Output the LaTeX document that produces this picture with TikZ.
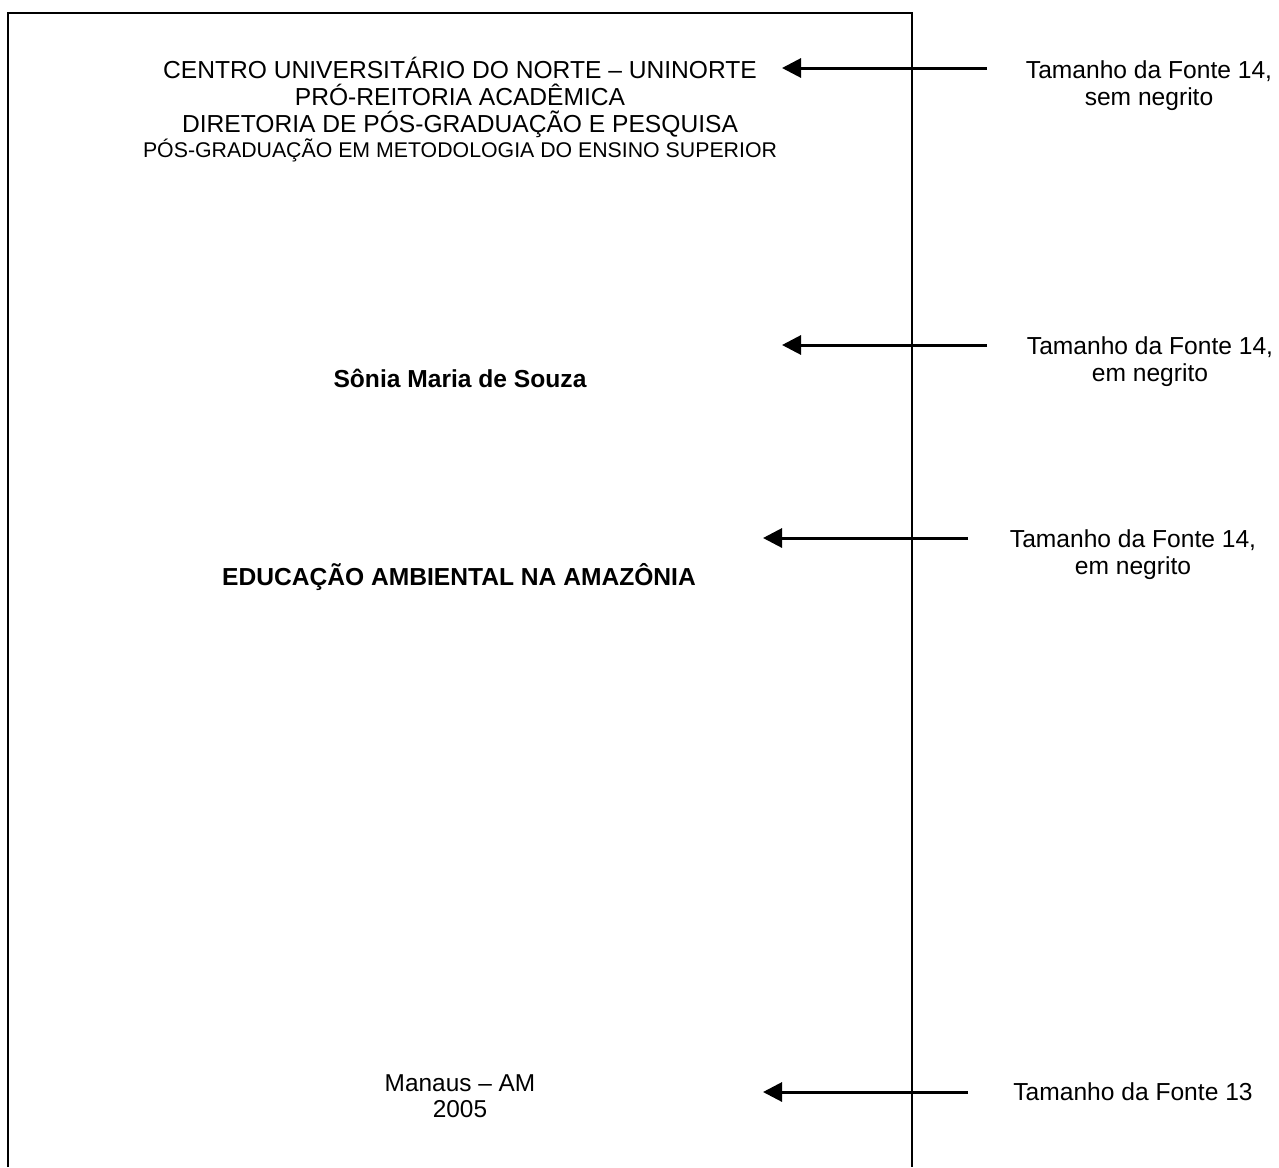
\documentclass[tikz,border=0pt]{standalone}
\usepackage{fontspec}
\setmainfont{Liberation Sans}
\usetikzlibrary{positioning}
\usetikzlibrary{arrows.meta}
\newcommand{\bigsize}{\fontsize{24.6}{27}\selectfont}
\newcommand{\smallsize}{\fontsize{21.3}{25}\selectfont}
\newcommand{\citysize}{\fontsize{24.4}{28}\selectfont}

\begin{document}
\begin{tikzpicture}[x=1pt, y=1pt, node distance=4.5pt, outer sep=0pt]
\tikzstyle{headline}=[
    inner sep=0pt,
    font=\bigsize,
    text height=17.5pt,
    text depth=5pt]
\tikzstyle{subline}=[
    inner sep=0pt,
    font=\smallsize,
    text height=15.5pt,
    text depth=4.5pt]
\tikzstyle{boldline}=[
    inner sep=0pt,
    font=\bigsize\bfseries,
    anchor=base]
\tikzstyle{cityline}=[
    inner sep=0pt,
    font=\citysize,
    text height=16.5pt,
    text depth=5pt]
\tikzstyle{note}=[
    inner sep=0pt,
    font=\bigsize,
    text height=17.5pt,
    text depth=5pt]
\tikzstyle{pointer}=[
    line width=3pt,
    -{Triangle[length=19pt,width=19pt]}]
\tikzstyle{sheet}=[
    line width=2pt]
\useasboundingbox (0,0) rectangle (1279,-1167);
\draw[sheet] (8,-1167) -- (8,-13) -- (912,-13) -- (912,-1167);

% cover page texts
\node[headline, anchor=base] (inst) at (460,-78.5) {CENTRO UNIVERSITÁRIO DO NORTE – UNINORTE};
\node[headline] (prorect) [below = of inst] {PRÓ-REITORIA ACADÊMICA};
\node[headline] (direct) [below = of prorect] {DIRETORIA DE PÓS-GRADUAÇÃO E PESQUISA};
\node[subline] (course) [below = of direct] {PÓS-GRADUAÇÃO EM METODOLOGIA DO ENSINO SUPERIOR};
\node[boldline] (author) at (460,-387.5) {Sônia Maria de Souza};
\node[boldline] (title) at (459,-585.5) {EDUCAÇÃO AMBIENTAL NA AMAZÔNIA};
\node[cityline, anchor=base] (city) at (460,-1091) {Manaus – AM};
\node[cityline] (year) [below = of city] {2005};

% notes on the right
\node[note, anchor=base] (noteheadA) at (1149,-78.5) {Tamanho da Fonte 14,};
\node[note] (noteheadB) [below = of noteheadA] {sem negrito};
\node[note, anchor=base] (noteauthorA) at (1150,-354.5) {Tamanho da Fonte 14,};
\node[note] (noteauthorB) [below = of noteauthorA] {em negrito};
\node[note, anchor=base] (notetitleA) at (1133,-547.5) {Tamanho da Fonte 14,};
\node[note] (notetitleB) [below = of notetitleA] {em negrito};
\node[note, anchor=base] (notecity) at (1133,-1100.5) {Tamanho da Fonte 13};

% arrows
\coordinate (tailhead) at (987,-68);
\coordinate (tiphead) at (782,-68);
\coordinate (tailauthor) at (987,-345);
\coordinate (tipauthor) at (782,-345);
\coordinate (tailtitle) at (968,-538);
\coordinate (tiptitle) at (763,-538);
\coordinate (tailcity) at (968,-1092);
\coordinate (tipcity) at (763,-1092);
\draw[pointer] (tailhead) -- (tiphead);
\draw[pointer] (tailauthor) -- (tipauthor);
\draw[pointer] (tailtitle) -- (tiptitle);
\draw[pointer] (tailcity) -- (tipcity);

\end{tikzpicture}
\end{document}
